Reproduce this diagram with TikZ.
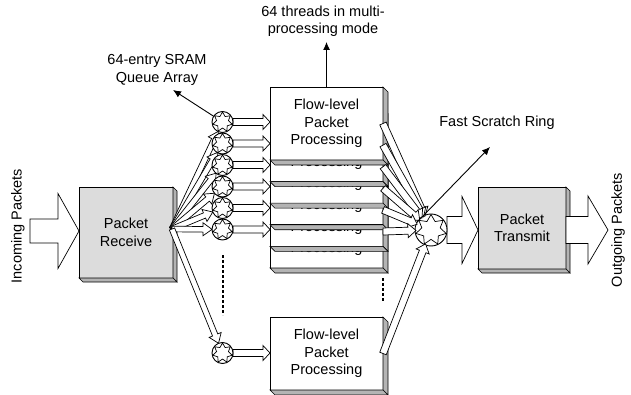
\documentclass[tikz,border=0pt]{standalone}
\usepackage{fontspec}
\setmainfont{Liberation Sans}
\usetikzlibrary{calc,arrows.meta,shapes.geometric}

\definecolor{facegrey}{HTML}{DCDCDC}
\definecolor{sidegrey}{HTML}{B4B4B4}

% hollow block arrow: [options]{from}{to}{shaft half width}{head half width}{head length}
\newcommand\blockarrow[6][]{%
  \path ($(#3)!#6pt!(#2)$) coordinate (bahead);
  \draw[blockline,#1] ($(#2)!#4pt!90:(#3)$) -- ($(bahead)!#4pt!90:(#3)$)
     -- ($(bahead)!#5pt!90:(#3)$) -- (#3) -- ($(bahead)!#5pt!-90:(#3)$)
     -- ($(bahead)!#4pt!-90:(#3)$) -- ($(#2)!#4pt!-90:(#3)$) -- cycle;
}
% right and bottom faces of a raised box: {node}{depth}
\newcommand\depthfaces[2]{%
  \filldraw[fill=sidegrey, line width=0.6pt, line join=miter]
    (#1.north east) -- ++(#2,#2) -- ($(#1.south east)+(#2,#2)$) -- (#1.south east) -- cycle;
  \filldraw[fill=sidegrey, line width=0.6pt, line join=miter]
    (#1.south west) -- (#1.south east) -- ($(#1.south east)+(#2,#2)$) -- ($(#1.south west)+(#2,#2)$) -- cycle;
}

\begin{document}
\begin{tikzpicture}[x=1pt,y=-1pt,
  txt/.style={font=\fontsize{14.5}{17.5}\selectfont, align=center, inner sep=0pt},
  unit/.style={txt, draw, line width=0.7pt, rectangle, outer sep=0pt},
  grybox/.style={unit, fill=facegrey},
  procbox/.style={unit, fill=white, minimum width=113pt, minimum height=73pt},
  qcirc/.style={circle, draw, fill=white, line width=0.9pt, minimum size=21pt, inner sep=0pt, outer sep=0pt},
  qstar/.style={star, star points=7, star point ratio=1.65, draw, line width=0.7pt, minimum size=20pt, inner sep=0pt},
  blockline/.style={draw, fill=white, line width=0.7pt, line join=miter},
  pointer/.style={-{Latex[length=8pt,width=7pt]}, line width=0.9pt},
  dots/.style={line width=2pt, dash pattern=on 3pt off 2pt}
]
\useasboundingbox (0,0) rectangle (631,395);

% receive and transmit units
\node[grybox, minimum width=94pt, minimum height=91pt] (rcv) at (126,232.5) {Packet\\Receive};
\depthfaces{rcv}{4}
\node[grybox, minimum width=88pt, minimum height=82pt] (tx) at (522,228) {Packet\\Transmit};
\depthfaces{tx}{4}

% stack of processing units, back to front
\foreach \k in {6,...,1} {
  \node[procbox] (p\k) at (326.5,{123.5+21.6*(\k-1)}) {Flow-level\\Packet\\Processing};
  \depthfaces{p\k}{5}
}
\node[procbox] (pb) at (326.5,353.5) {Flow-level\\Packet\\Processing};
\depthfaces{pb}{5}

% queue positions
\foreach \k/\y in {1/122,2/143.5,3/165,4/186.5,5/208,6/229.5,7/353}
  \coordinate (qc\k) at (222.5,\y);
\coordinate (fanL) at (172,229);

% incoming packets
\coordinate (inL) at (30,231);
\path (inL -| rcv.west) coordinate (inR);
\blockarrow{inL}{inR}{12}{37.5}{21}

% receive -> queues
\foreach \k in {1,...,7} {
  \path ($(qc\k)!10.5pt!(fanL)$) coordinate (qin\k);
  \blockarrow{fanL}{qin\k}{2.8}{6.5}{9}
}
% queues -> processing
\foreach \k in {1,...,6} {
  \path (qc\k) ++(10.5,0) coordinate (qout\k);
  \path (qout\k -| p1.west) coordinate (pin\k);
  \blockarrow{qout\k}{pin\k}{3.5}{7.5}{7}
}
\path (qc7) ++(10.5,0) coordinate (qout7);
\path (qout7 -| pb.west) coordinate (pin7);
\blockarrow{qout7}{pin7}{3.5}{7.5}{7}

\foreach \k in {1,...,7} {
  \node[qcirc] (q\k) at (qc\k) {};
  \node[qstar] (qs\k) at (qc\k) {};
}

% scratch ring -> transmit -> out
\coordinate (ringc) at (431,230);
\path (ringc) ++(16,0) coordinate (ringE);
\path (ringE -| tx.west) coordinate (txin);
\blockarrow{ringE}{txin}{13.5}{33.5}{16}
\coordinate (outR) at (608,230);
\path (outR -| tx.east) coordinate (txout);
\blockarrow{txout}{outR}{13.5}{34}{20}

\node[qcirc, minimum size=32pt] (ring) at (ringc) {};
\node[qstar, minimum size=31pt] (rings) at (ringc) {};

% processing -> scratch ring
\foreach \k in {1,...,6} {
  \path ($(ringc)!15pt!(p\k.east)$) coordinate (rin\k);
  \blockarrow{p\k.east}{rin\k}{3.5}{7}{8}
}
\path ($(ringc)!15pt!(pb.east)$) coordinate (rin7);
\blockarrow{pb.east}{rin7}{3.5}{7}{8}

% elided units
\draw[dots] (222.5,255) -- (222.5,315);
\draw[dots] (383,278) -- (383,302);

% annotations
\node[txt] (sram) at (157,70) {64-entry SRAM\\Queue Array};
\coordinate (sramtip) at (173,90);
\draw[pointer] (q1) -- (sramtip);

\node[txt] (thr) at (323,21.5) {64 threads in multi-\\processing mode};
\path (p1.north |- 0,42) coordinate (thrtip);
\draw[pointer] (p1.north) -- (thrtip);

\node[txt] (fsr) at (497,123) {Fast Scratch Ring};
\coordinate (fsrtip) at (490,147);
\draw[pointer] (ring.150) -- (fsrtip);

\node[txt, rotate=90] (inlbl) at (18,226) {Incoming Packets};
\node[txt, rotate=90] (outlbl) at (618,230) {Outgoing Packets};
\end{tikzpicture}
\end{document}
